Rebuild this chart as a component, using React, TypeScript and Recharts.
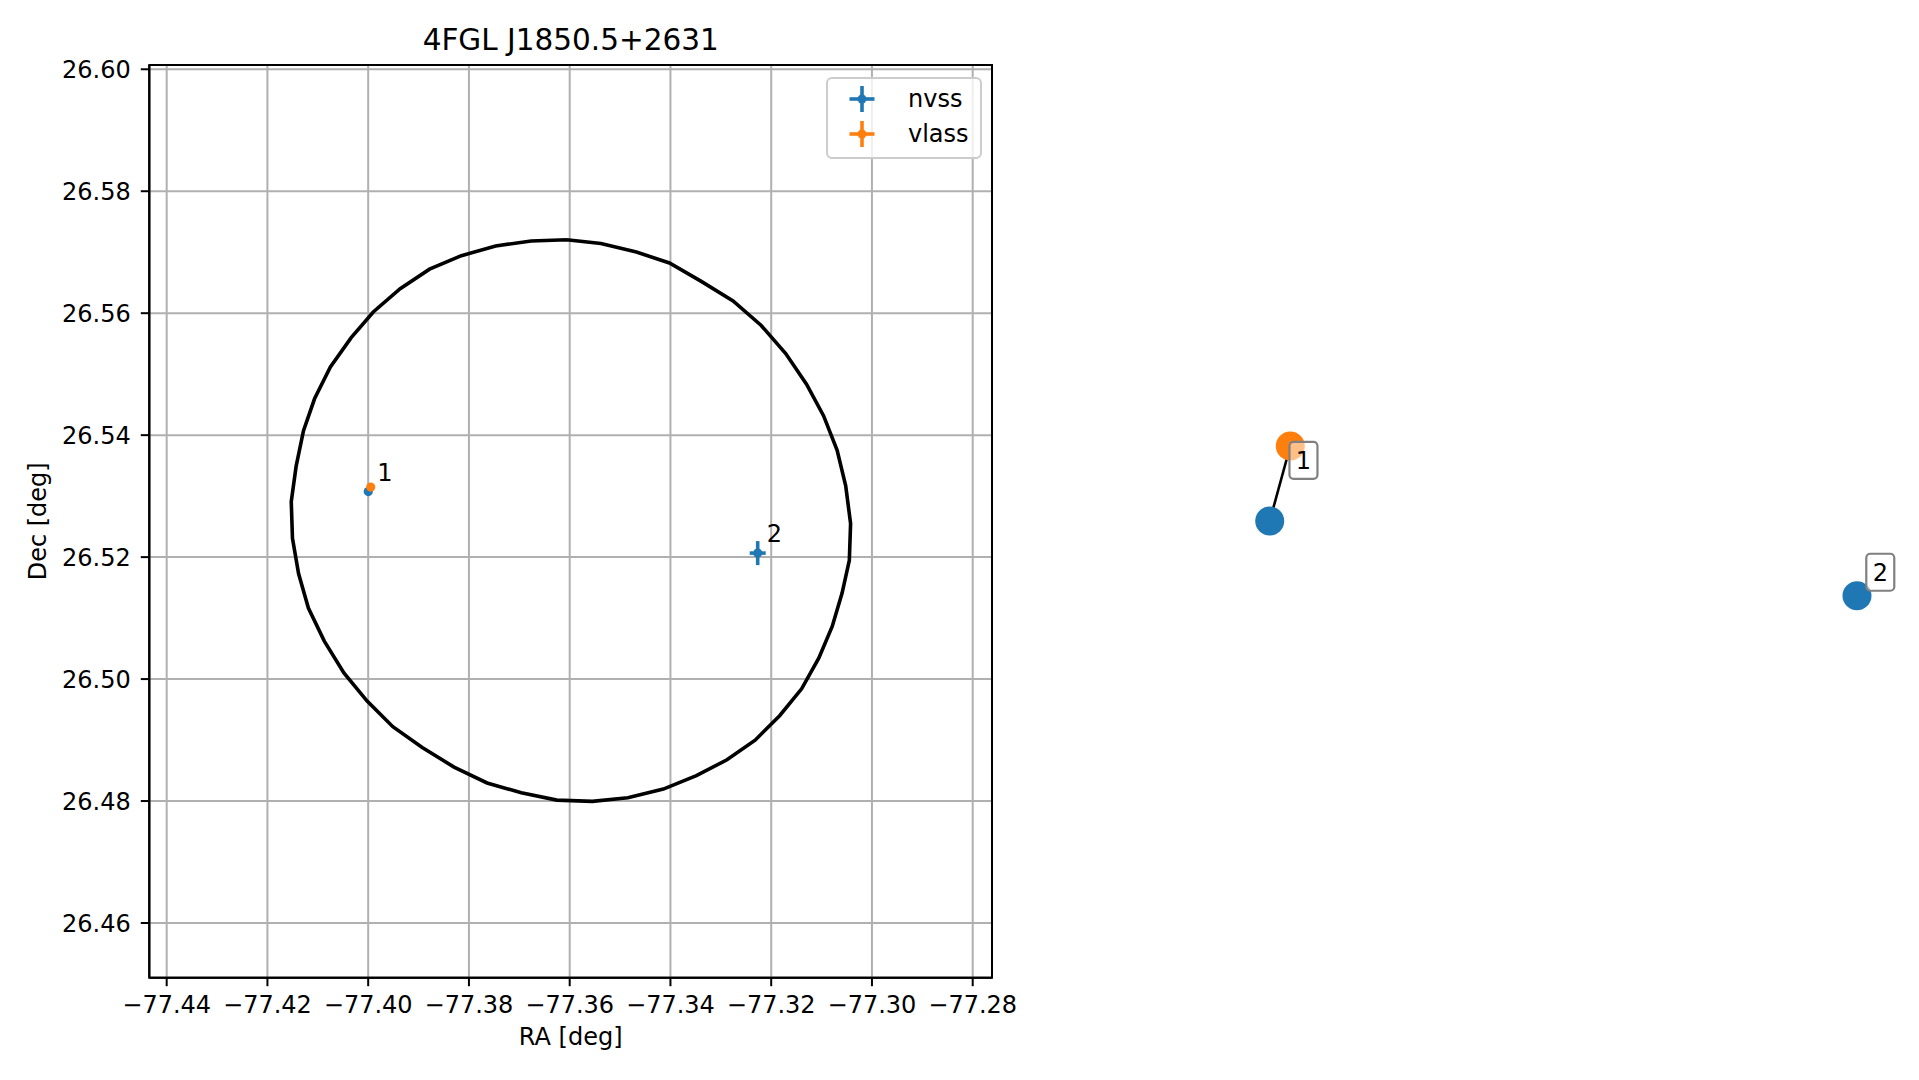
import React from 'react';
import {
  ScatterChart,
  Scatter,
  XAxis,
  YAxis,
  CartesianGrid,
  ErrorBar,
  Legend,
  Label,
  ReferenceArea,
} from 'recharts';

// ---------------- data ----------------
const TITLE = '4FGL J1850.5+2631';
const X_LABEL = 'RA [deg]';
const Y_LABEL = 'Dec [deg]';

const X_TICKS = [-77.44, -77.42, -77.4, -77.38, -77.36, -77.34, -77.32, -77.3, -77.28];
const Y_TICKS = [26.46, 26.48, 26.5, 26.52, 26.54, 26.56, 26.58, 26.6];
const X_DOMAIN = [-77.44345, -77.27617];
const Y_DOMAIN = [26.45103, 26.6007];

// localisation ellipse (polygon vertices)
const circleRA = [
  -77.36061, -77.3538, -77.34676, -77.3402, -77.33388, -77.32757, -77.32198, -77.31712, -77.31299,
  -77.30959, -77.30691, -77.30521, -77.30424, -77.30449, -77.30594, -77.30789, -77.31056, -77.31396,
  -77.31833, -77.32319, -77.32878, -77.33485, -77.34141, -77.34846, -77.3555, -77.36255, -77.3696,
  -77.3764, -77.38296, -77.38927, -77.39511, -77.40021, -77.40482, -77.40871, -77.41187, -77.41381,
  -77.41503, -77.41527, -77.4143, -77.41284, -77.41065, -77.4075, -77.40337, -77.39899, -77.39365,
  -77.38782, -77.3815, -77.3747, -77.36765, -77.36061,
];
const circleDec = [
  26.57204, 26.57144, 26.57003, 26.56823, 26.56522, 26.56201, 26.55799, 26.55338, 26.54836,
  26.54315, 26.53753, 26.53171, 26.52549, 26.51947, 26.51406, 26.50864, 26.50342, 26.49841,
  26.49399, 26.48998, 26.48677, 26.48416, 26.48196, 26.48055, 26.47995, 26.48015, 26.48135,
  26.48296, 26.48557, 26.48878, 26.49219, 26.4964, 26.50101, 26.50623, 26.51165, 26.51727,
  26.52308, 26.5291, 26.53492, 26.54074, 26.54596, 26.55117, 26.55599, 26.5602, 26.56401,
  26.56722, 26.56943, 26.57103, 26.57184, 26.57204,
];

const nvssRA = [-77.39998, -77.32268];
const nvssDec = [26.53075, 26.52066];
const nvssRAErr = [0.0004, 0.00159];
const nvssDecErr = [0.0004, 0.00197];

const vlassRA = [-77.3995];
const vlassDec = [26.53148];
const vlassRAErr = [0.0002];
const vlassDecErr = [0.0002];

const sourceIds = ['1', '2'];

// right panel: association graph layout (arbitrary layout units)
const graphNvssX = [0.2585, 0.9494];
const graphNvssY = [0.5005, 0.4187];
const graphVlassX = [0.2827];
const graphVlassY = [0.5827];
const graphEdgeX = [0.2585, 0.2827];
const graphEdgeY = [0.5005, 0.5827];
const graphLabelX = [0.2982, 0.9768];
const graphLabelY = [0.567, 0.4444];
const graphLabelText = ['1', '2'];

// ---------------- styling ----------------
const FONT = "'DejaVu Sans', sans-serif";
const BLUE = '#1f77b4';
const ORANGE = '#ff7f0e';
const FS = 24;

const circleData = circleRA.map((x, i) => ({ x, y: circleDec[i] }));
const nvssData = nvssRA.map((x, i) => ({ x, y: nvssDec[i], ex: nvssRAErr[i], ey: nvssDecErr[i] }));
const vlassData = vlassRA.map((x, i) => ({ x, y: vlassDec[i], ex: vlassRAErr[i], ey: vlassDecErr[i] }));
const labelData = nvssRA.map((x, i) => ({ x, y: nvssDec[i], id: sourceIds[i] }));

const gNvss = graphNvssX.map((x, i) => ({ x, y: graphNvssY[i] }));
const gVlass = graphVlassX.map((x, i) => ({ x, y: graphVlassY[i] }));
const gEdge = graphEdgeX.map((x, i) => ({ x, y: graphEdgeY[i] }));
const gLabels = graphLabelX.map((x, i) => ({ x, y: graphLabelY[i], t: graphLabelText[i] }));

const NoShape = () => <g />;

const dot = (color: string, r: number) => (props: any) => {
  const { cx, cy } = props;
  if (cx == null || cy == null) return <g />;
  return <circle cx={cx} cy={cy} r={r} fill={color} />;
};

const idLabel = (props: any) => {
  const { cx, cy, payload } = props;
  if (cx == null || cy == null) return <g />;
  return (
    <text x={cx + 9} y={cy - 11} fontSize={FS} fontFamily={FONT} fill="#000">
      {payload.id}
    </text>
  );
};

const boxLabel = (props: any) => {
  const { cx, cy, payload } = props;
  if (cx == null || cy == null) return <g />;
  const w = 28;
  const h = 37;
  return (
    <g>
      <rect
        x={cx - w / 2}
        y={cy - h / 2}
        width={w}
        height={h}
        rx={4}
        ry={4}
        fill="#ffffff"
        fillOpacity={0.5}
        stroke="#808080"
        strokeWidth={2.2}
      />
      <text
        x={cx}
        y={cy + 8.5}
        textAnchor="middle"
        fontSize={24}
        fontFamily={FONT}
        fill="#000"
      >
        {payload.t}
      </text>
    </g>
  );
};

const legendItems = [
  { name: 'nvss', color: BLUE },
  { name: 'vlass', color: ORANGE },
];

const LegendBox = () => (
  <svg width={156} height={82} style={{ display: 'block', overflow: 'visible' }}>
    <rect x={1} y={1} width={154} height={80} rx={5} ry={5} fill="#ffffff" fillOpacity={0.8} stroke="#cccccc" strokeWidth={2} />
    {legendItems.map((it, i) => {
      const cy = 22 + i * 35;
      const cx = 36;
      return (
        <g key={it.name}>
          <line x1={cx - 12.5} x2={cx + 12.5} y1={cy} y2={cy} stroke={it.color} strokeWidth={3.6} />
          <line x1={cx} x2={cx} y1={cy - 13} y2={cy + 13} stroke={it.color} strokeWidth={3.6} />
          <circle cx={cx} cy={cy} r={4.5} fill={it.color} />
          <text x={82} y={cy + 8} fontSize={FS} fontFamily={FONT} fill="#000">
            {it.name}
          </text>
        </g>
      );
    })}
  </svg>
);

const tickStyle = { fill: '#000', fontSize: FS, fontFamily: FONT };
const fmtX = (v: number) => v.toFixed(2).replace('-', '\u2212');
const fmtY = (v: number) => v.toFixed(2);

export default function App() {
  return (
    <div style={{ position: 'absolute', left: 0, top: 0, width: 1919, height: 1080, background: '#fff' }}>
      <svg width={1141.4} height={60} style={{ position: 'absolute', left: 0, top: 0 }}>
        <text x={570.7} y={50} textAnchor="middle" fontSize={29.5} fontFamily={FONT} fill="#000">
          {TITLE}
        </text>
      </svg>

      <div style={{ position: 'absolute', left: 0, top: 0 }}>
        <ScatterChart
          width={1040}
          height={1080}
          margin={{ top: 65, right: 48, bottom: 22.3, left: 19.3 }}
        >
          <CartesianGrid stroke="#b0b0b0" strokeWidth={2} />
          <XAxis
            type="number"
            dataKey="x"
            domain={X_DOMAIN}
            allowDataOverflow
            ticks={X_TICKS}
            tickFormatter={fmtX}
            tick={tickStyle}
            tickSize={8.5}
            tickMargin={9.5}
            tickLine={{ stroke: '#000', strokeWidth: 2 }}
            axisLine={{ stroke: '#000', strokeWidth: 2 }}
            height={80}
            interval={0}
          >
            <Label
              value={X_LABEL}
              position="insideBottom"
              offset={12.7}
              style={{ fontSize: FS, fill: '#000', fontFamily: FONT }}
            />
          </XAxis>
          <YAxis
            type="number"
            dataKey="y"
            domain={Y_DOMAIN}
            allowDataOverflow
            ticks={Y_TICKS}
            tickFormatter={fmtY}
            tick={tickStyle}
            tickSize={8.5}
            tickMargin={10}
            tickLine={{ stroke: '#000', strokeWidth: 2 }}
            axisLine={{ stroke: '#000', strokeWidth: 2 }}
            width={130}
            interval={0}
          >
            <Label
              value={Y_LABEL}
              angle={-90}
              position="insideLeft"
              offset={18}
              style={{ fontSize: FS, fill: '#000', fontFamily: FONT, textAnchor: 'middle' }}
            />
          </YAxis>
          <Scatter
            name="circle"
            data={circleData}
            line={{ stroke: '#000', strokeWidth: 3.6 }}
            lineJointType="linear"
            shape={NoShape}
            legendType="none"
            isAnimationActive={false}
          />
          <Scatter name="nvss" data={nvssData} fill={BLUE} shape={dot(BLUE, 4.6)} isAnimationActive={false}>
            <ErrorBar dataKey="ex" direction="x" width={0} stroke={BLUE} strokeWidth={3.6} />
            <ErrorBar dataKey="ey" direction="y" width={0} stroke={BLUE} strokeWidth={3.6} />
          </Scatter>
          <Scatter name="vlass" data={vlassData} fill={ORANGE} shape={dot(ORANGE, 4.6)} isAnimationActive={false}>
            <ErrorBar dataKey="ex" direction="x" width={0} stroke={ORANGE} strokeWidth={3.6} />
            <ErrorBar dataKey="ey" direction="y" width={0} stroke={ORANGE} strokeWidth={3.6} />
          </Scatter>
          <Scatter
            name="labels"
            data={labelData}
            shape={idLabel}
            legendType="none"
            isAnimationActive={false}
          />
          <ReferenceArea
            x1={X_DOMAIN[0]}
            x2={X_DOMAIN[1]}
            y1={Y_DOMAIN[0]}
            y2={Y_DOMAIN[1]}
            fill="none"
            fillOpacity={0}
            stroke="#000"
            strokeWidth={2}
            ifOverflow="visible"
          />
          <Legend
            layout="vertical"
            align="center"
            verticalAlign="middle"
            content={() => <LegendBox />}
            wrapperStyle={{ position: 'absolute', left: 826, top: 77, width: 156, height: 82 }}
          />
        </ScatterChart>
      </div>

      <div style={{ position: 'absolute', left: 1050, top: 65 }}>
        <ScatterChart width={850} height={913} margin={{ top: 0, right: 0, bottom: 0, left: 0 }}>
          <XAxis type="number" dataKey="x" domain={[0, 1]} hide allowDataOverflow />
          <YAxis type="number" dataKey="y" domain={[0, 1]} hide allowDataOverflow />
          <Scatter
            name="edge"
            data={gEdge}
            line={{ stroke: '#000', strokeWidth: 2.6 }}
            lineJointType="linear"
            shape={NoShape}
            legendType="none"
            isAnimationActive={false}
          />
          <Scatter name="nvss" data={gNvss} fill={BLUE} shape={dot(BLUE, 14.5)} isAnimationActive={false} />
          <Scatter name="vlass" data={gVlass} fill={ORANGE} shape={dot(ORANGE, 14.5)} isAnimationActive={false} />
          <Scatter name="ids" data={gLabels} shape={boxLabel} legendType="none" isAnimationActive={false} />
        </ScatterChart>
      </div>
    </div>
  );
}
